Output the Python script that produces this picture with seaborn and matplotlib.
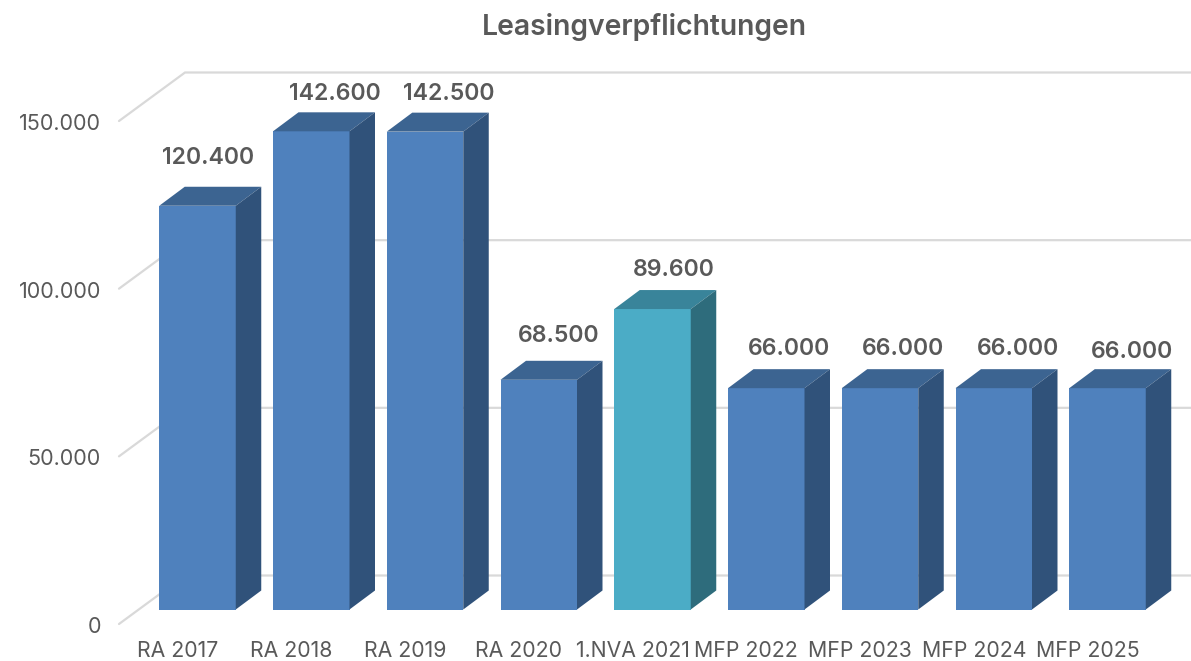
import matplotlib
matplotlib.use("Agg")
import matplotlib.pyplot as plt
from matplotlib.patches import Polygon
from matplotlib.transforms import ScaledTranslation
import pandas as pd
import seaborn as sns

categories = ["RA 2017", "RA 2018", "RA 2019", "RA 2020", "1.NVA 2021",
              "MFP 2022", "MFP 2023", "MFP 2024", "MFP 2025"]
values = [120400, 142600, 142500, 68500, 89600, 66000, 66000, 66000, 66000]
value_labels = ["120.400", "142.600", "142.500", "68.500", "89.600",
                "66.000", "66.000", "66.000", "66.000"]
y_ticks = [0, 50000, 100000, 150000]
y_tick_labels = ["0", "50.000", "100.000", "150.000"]

# label nudges in pixels (relative to bar centre / back edge of bar top)
label_dx = [11, 24, 24, 20, 21, 23, 23, 24, 25]
label_dy = [29, 18, 19, 25, 20, 20, 20, 20, 17]

W, H = 1191, 661
BLUE = ["#4F81BD", "#3C6491", "#30527A"]
TEAL = ["#4BACC6", "#39849A", "#2E6C7C"]
TEXT = "#595959"
GRID = "#D9D9D9"
STEP = 113.75  # px per category
PX_PER_UNIT = 503 / 150000
DEPTH_X, DEPTH_Y = 25.5, 19  # bar depth
WALL_X, WALL_Y = 66, 48.5  # floor depth

sns.set_theme(style="white")
plt.rcParams["font.family"] = ["Inter", "DejaVu Sans"]


def axes_rect(left, right, bottom_y, top_y):
    return [left / W, 1 - bottom_y / H, (right - left) / W, (bottom_y - top_y) / H]


fig = plt.figure(figsize=(W / 100, H / 100), dpi=100)

# wall: axis labels and gridlines, 0 at y=624 and 150000 at y=121
wall = fig.add_axes(axes_rect(119, W, 624, 121))
wall.set_ylim(0, 150000)
wall.set_xlim((119 - 177.5) / STEP, (W - 177.5) / STEP)
wall.patch.set_alpha(0)
sns.despine(ax=wall, left=True, bottom=True)
wall.set_xticks(range(len(categories)))
wall.set_xticklabels(categories, fontsize=15.3, color=TEXT)
wall.set_yticks(y_ticks)
wall.set_yticklabels(y_tick_labels, fontsize=15.5, color=TEXT)
wall.tick_params(axis="x", length=0, pad=12)
wall.tick_params(axis="y", length=0, pad=13)
wall.grid(False)
for lab in wall.get_yticklabels():
    lab.set_transform(lab.get_transform() + ScaledTranslation(0, -0.01, fig.dpi_scale_trans))

dx_wall = WALL_X / STEP
dy_wall = WALL_Y / PX_PER_UNIT
x0 = wall.get_xlim()[0]
x1 = wall.get_xlim()[1]
for t in y_ticks:
    wall.plot([x0, x0 + dx_wall, x1], [t, t + dy_wall, t + dy_wall], color=GRID,
              lw=1.6, clip_on=False, solid_joinstyle="miter")

# bars: 0 at y=609.5
ax = fig.add_axes(axes_rect(119, W, 609.5, 609.5 - 503))
df = pd.DataFrame({"cat": categories, "val": values})
sns.barplot(data=df, x="cat", y="val", ax=ax, width=76.5 / STEP, color=BLUE[0],
            saturation=1, legend=False)
ax.set_ylim(0, 150000)
ax.set_xlim((119 - 197.5) / STEP, (W - 197.5) / STEP)
ax.patch.set_alpha(0)
ax.set_axis_off()

dx = DEPTH_X / STEP
dy = DEPTH_Y / PX_PER_UNIT
for i, bar in enumerate(ax.patches):
    front, top, side = TEAL if categories[i].startswith("1.NVA") else BLUE
    bar.set_facecolor(front)
    bar.set_edgecolor("none")
    l, r, h = bar.get_x(), bar.get_x() + bar.get_width(), bar.get_height()
    ax.add_patch(Polygon([(l, h), (r, h), (r + dx, h + dy), (l + dx, h + dy)],
                         facecolor=top, edgecolor="none", clip_on=False))
    ax.add_patch(Polygon([(r, 0), (r + dx, dy), (r + dx, h + dy), (r, h)],
                         facecolor=side, edgecolor="none", clip_on=False))
    ax.text(i + label_dx[i] / STEP, h + dy + label_dy[i] / PX_PER_UNIT, value_labels[i],
            ha="center", va="center", fontsize=16.6, fontweight="semibold",
            color=TEXT, clip_on=False)

fig.text(644 / W, 1 - 27 / H, "Leasingverpflichtungen", ha="center", va="center",
         fontsize=20.4, fontweight="semibold", color=TEXT)

fig.savefig("out.png", dpi=100)
